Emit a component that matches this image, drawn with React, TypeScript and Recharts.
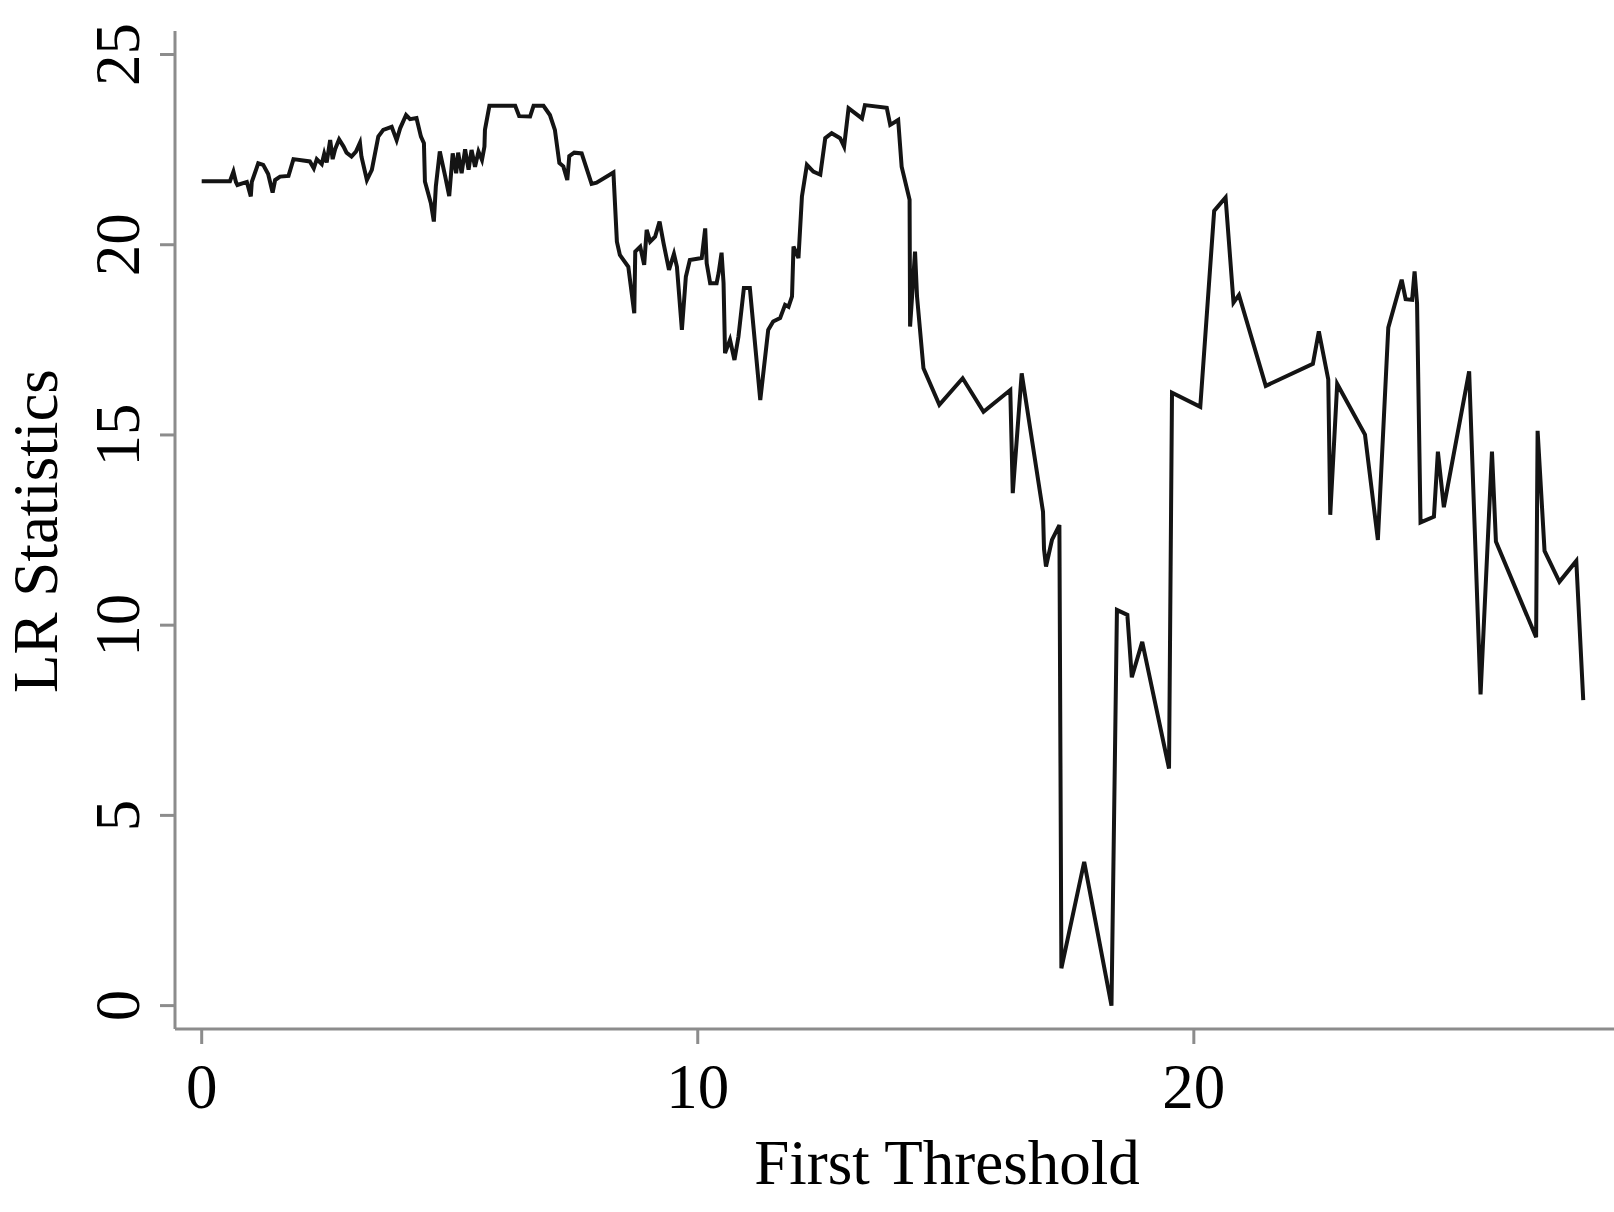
import { LineChart, Line, XAxis, YAxis, Label } from "recharts";

// threshold values (x) and LR statistics (y)
const thresholds = [
  0.0, 0.57, 0.64, 0.69, 0.72, 0.91, 0.99, 1.01, 1.14, 1.24, 1.34, 1.43, 1.48, 1.58, 1.75, 1.85,
  2.18, 2.26, 2.32, 2.42, 2.47, 2.52, 2.59, 2.64, 2.69, 2.77, 2.86, 2.92, 3.02, 3.11, 3.19, 3.22,
  3.33, 3.43, 3.56, 3.66, 3.83, 3.93, 4.0, 4.12, 4.2, 4.33, 4.42, 4.48, 4.5, 4.62, 4.68, 4.72,
  4.8, 4.91, 4.99, 5.06, 5.13, 5.17, 5.24, 5.31, 5.38, 5.44, 5.51, 5.58, 5.65, 5.7, 5.71, 5.8,
  6.32, 6.4, 6.62, 6.69, 6.89, 7.02, 7.12, 7.21, 7.29, 7.37, 7.41, 7.51, 7.66, 7.86, 7.96, 8.3,
  8.37, 8.43, 8.6, 8.72, 8.74, 8.84, 8.92, 8.97, 9.04, 9.14, 9.23, 9.31, 9.42, 9.52, 9.58, 9.68,
  9.76, 9.84, 10.08, 10.15, 10.18, 10.25, 10.38, 10.42, 10.48, 10.52, 10.55, 10.65, 10.74, 10.82,
  10.93, 11.05, 11.26, 11.42, 11.52, 11.66, 11.76, 11.83, 11.9, 11.93, 12.03, 12.1, 12.2, 12.33,
  12.47, 12.57, 12.7, 12.87, 12.95, 13.04, 13.17, 13.31, 13.37, 13.81, 13.88, 14.04, 14.11, 14.27,
  14.28, 14.38, 14.42, 14.55, 14.87, 15.34, 15.76, 16.3, 16.35, 16.53, 16.96, 16.98, 17.02, 17.14,
  17.29, 17.33, 17.79, 18.34, 18.45, 18.66, 18.75, 18.96, 19.5, 19.56, 20.13, 20.41, 20.64, 20.8,
  20.91, 21.45, 22.4, 22.52, 22.71, 22.75, 22.89, 23.45, 23.71, 23.92, 24.19, 24.27, 24.4, 24.45,
  24.5, 24.57, 24.84, 24.92, 25.04, 25.55, 25.78, 26.01, 26.09, 26.9, 26.93, 27.07, 27.37, 27.71,
  27.85,
];

const lrStats = [
  21.67, 21.67, 21.92, 21.65, 21.57, 21.65, 21.27, 21.65, 22.14, 22.1, 21.86, 21.37, 21.7, 21.79, 21.81, 22.25,
  22.19, 22.01, 22.25, 22.12, 22.39, 22.16, 22.75, 22.25, 22.51, 22.77, 22.58, 22.42, 22.32, 22.45, 22.68, 22.32,
  21.7, 21.97, 22.84, 23.02, 23.1, 22.75, 23.06, 23.41, 23.3, 23.33, 22.84, 22.67, 21.66, 21.09, 20.61, 21.53,
  22.45, 21.79, 21.28, 22.4, 21.88, 22.42, 21.88, 22.51, 21.97, 22.49, 22.05, 22.45, 22.23, 22.58, 23.02, 23.65,
  23.65, 23.38, 23.37, 23.65, 23.65, 23.41, 23.02, 22.15, 22.06, 21.7, 22.33, 22.42, 22.4, 21.6, 21.63, 21.9,
  20.08, 19.73, 19.42, 18.2, 19.82, 19.95, 19.47, 20.39, 20.08, 20.21, 20.61, 20.04, 19.34, 19.76, 19.42, 17.76,
  19.16, 19.6, 19.65, 20.43, 19.51, 18.99, 18.99, 19.25, 19.79, 18.99, 17.15, 17.5, 16.97, 17.58,
  18.86, 18.86, 15.92, 17.76, 17.98, 18.07, 18.42, 18.37, 18.64, 19.95, 19.65, 21.27, 22.1, 21.92,
  21.84, 22.8, 22.93, 22.8, 22.58, 23.59, 23.46, 23.32, 23.67, 23.6, 23.15, 23.28, 22.05, 21.18,
  17.85, 19.82, 18.64, 16.75, 15.79, 16.49, 15.61, 16.18, 13.47, 16.62, 12.98, 12.0, 11.54, 12.24,
  12.63, 0.98, 3.78, 0.0, 10.4, 10.27, 8.63, 9.56, 6.23, 16.11, 15.74, 20.89, 21.24, 18.48,
  18.68, 16.29, 16.87, 17.72, 16.46, 12.9, 16.34, 15.01, 12.24, 17.82, 19.08, 18.57, 18.55, 19.3,
  18.45, 12.7, 12.85, 14.56, 13.1, 16.67, 8.18, 14.56, 12.2, 9.68, 15.11, 11.95, 11.14, 11.69,
  8.03,
];

const xTicks = [0, 10, 20];
const yTicks = [0, 5, 10, 15, 20, 25];

const data = thresholds.map((t, i) => ({ threshold: t, lr: lrStats[i] }));

const FONT = '"Liberation Serif", "Times New Roman", serif';
const AXIS = "#8c8c8c";

const XTick = (props: any) => (
  <text x={props.x} y={props.y + 62} textAnchor="middle" fontFamily={FONT} fontSize={63} fill="#000">
    {props.payload.value}
  </text>
);

const YTick = (props: any) => {
  const x = props.x - 19;
  const y = props.y;
  return (
    <text x={x} y={y} transform={`rotate(-90, ${x}, ${y})`} textAnchor="middle" fontFamily={FONT} fontSize={63} fill="#000">
      {props.payload.value}
    </text>
  );
};

export default function App() {
  return (
    <div style={{ position: "absolute", left: 0, top: 0, width: 1614, height: 1212, background: "#fff" }}>
      <LineChart width={1614} height={1212} data={data} margin={{ top: 31, right: 0, bottom: 0, left: 0 }}>
        <XAxis
          type="number"
          dataKey="threshold"
          domain={[-0.538, 28.47]}
          allowDataOverflow
          ticks={xTicks}
          height={183}
          tickSize={15}
          stroke={AXIS}
          strokeWidth={3}
          tick={<XTick />}
        >
          <Label
            content={() => (
              <text x={947} y={1184} textAnchor="middle" fontFamily={FONT} fontSize={63} fill="#000">
                First Threshold
              </text>
            )}
          />
        </XAxis>
        <YAxis
          type="number"
          domain={[-0.615, 25.618]}
          allowDataOverflow
          ticks={yTicks}
          width={175}
          tickSize={15}
          stroke={AXIS}
          strokeWidth={3}
          tick={<YTick />}
        >
          <Label
            content={() => (
              <text x={57} y={531} transform="rotate(-90, 57, 531)" textAnchor="middle" fontFamily={FONT} fontSize={63} fill="#000">
                LR Statistics
              </text>
            )}
          />
        </YAxis>
        <Line
          type="linear"
          dataKey="lr"
          stroke="#141414"
          strokeWidth={4}
          dot={false}
          isAnimationActive={false}
        />
      </LineChart>
    </div>
  );
}
